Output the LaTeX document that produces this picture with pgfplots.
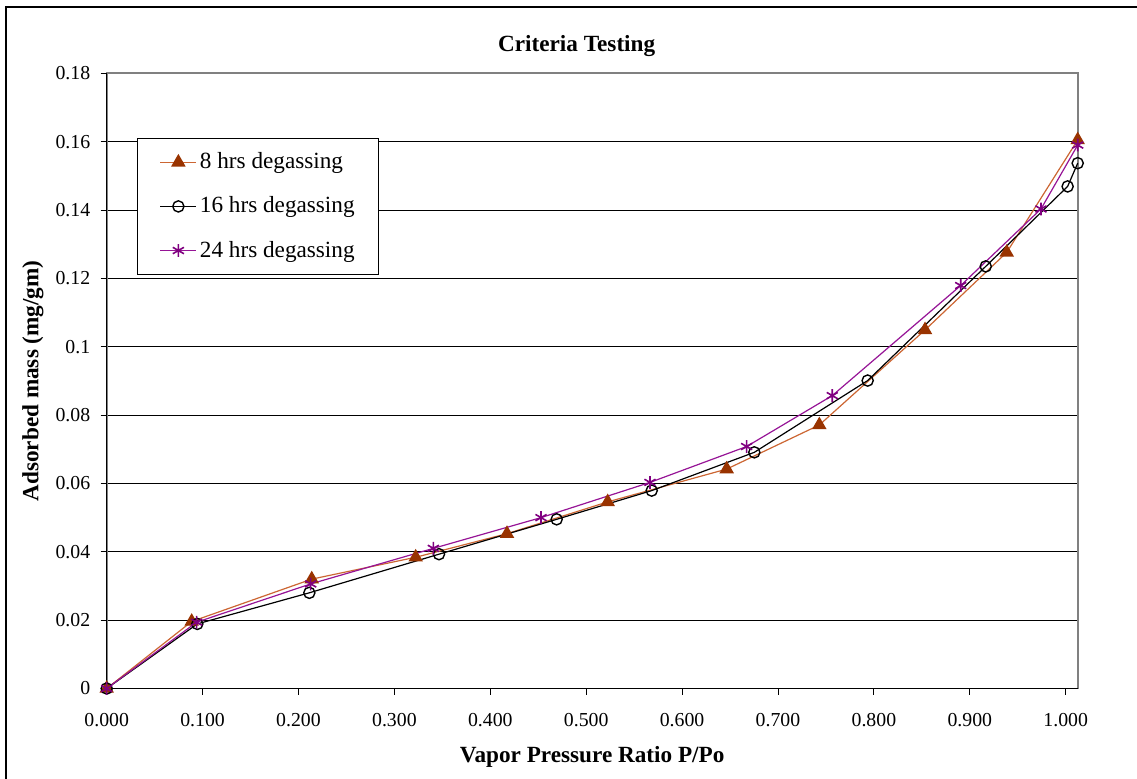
\documentclass[border=0pt]{standalone}
\usepackage{fontspec}
\setmainfont{Liberation Serif}
\usepackage{pgfplots}
\pgfplotsset{compat=1.18}

\definecolor{brownline}{RGB}{204,102,51}
\definecolor{brownmark}{RGB}{153,51,0}
\definecolor{purpline}{RGB}{150,20,150}
\definecolor{purpmark}{RGB}{128,0,128}

\begin{document}
\begin{tikzpicture}
% page = 1137 x 778 px at 0.5pt per px, origin at lower-left of plot area
\useasboundingbox (-53.35pt,-44.75pt) rectangle (515.15pt,344.25pt);
\draw[line width=1pt] (-50.2pt,-50pt) -- (-50.2pt,340.8pt) -- (520pt,340.8pt);

\begin{axis}[
    scale only axis,
    width=485.5pt, height=307.6pt,
    xmin=0, xmax=1.0125,
    ymin=0, ymax=0.18,
    clip=false,
    xtick={0,0.1,0.2,0.3,0.4,0.5,0.6,0.7,0.8,0.9,1.0},
    xticklabels={0.000,0.100,0.200,0.300,0.400,0.500,0.600,0.700,0.800,0.900,1.000},
    ytick={0,0.02,0.04,0.06,0.08,0.1,0.12,0.14,0.16,0.18},
    yticklabels={0,0.02,0.04,0.06,0.08,0.1,0.12,0.14,0.16,0.18},
    xtick pos=bottom, ytick pos=left,
    tick align=outside,
    major tick length=3pt,
    tick style={black, line width=0.5pt},
    ymajorgrids,
    grid style={black, line width=0.5pt},
    axis line style={draw=gray, line width=0.9pt},
    ticklabel style={font=\fontsize{9.9}{11}\selectfont},
    xticklabel style={yshift=-6pt},
    yticklabel style={xshift=-1.7pt},
    title={Criteria Testing},
    title style={at={(axis description cs:0.484,1.0493)}, anchor=center, yshift=-7.5pt,
        font=\bfseries\fontsize{11.6}{13}\selectfont},
    xlabel={Vapor Pressure Ratio P/Po},
    xlabel style={at={(axis description cs:0.5,-0.1113)}, anchor=center, font=\bfseries\fontsize{11.6}{13}\selectfont},
    ylabel={Adsorbed mass (mg/gm)},
    ylabel style={at={(axis description cs:-0.0759,0.5)}, anchor=center, font=\bfseries\fontsize{11.6}{13}\selectfont},
    legend style={at={(0.0315,0.8944)}, anchor=north west, draw=black, line width=0.5pt, fill=white,
        font=\fontsize{11.6}{13}\selectfont, inner xsep=11pt, inner ysep=5pt, row sep=8.5pt,
        nodes={inner xsep=1pt},
        /tikz/every odd column/.append style={column sep=0.5pt}},
    legend cell align=left,
    legend image code/.code={%
        \draw[mark repeat=2,mark phase=2,#1] plot coordinates {(0pt,0pt) (9pt,0pt) (18pt,0pt)};},
]

\draw[black, line width=0.8pt] (rel axis cs:0,1) -- (rel axis cs:0,0) -- (rel axis cs:1,0);

% 8 hrs degassing
\addplot[color=brownline, line width=0.6pt, mark=triangle*, mark size=3.6pt,
    mark options={fill=brownmark, draw=brownmark}] coordinates {
    (0,0) (0.0886,0.0196) (0.2138,0.0320) (0.3222,0.0384) (0.4174,0.0453)
    (0.5224,0.0546) (0.6465,0.0642) (0.7431,0.0771) (0.8533,0.1049)
    (0.9385,0.1276) (1.0125,0.1605)
};

% 16 hrs degassing
\addplot[color=black, line width=0.6pt, mark=o, mark size=2.8pt,
    mark options={line width=0.7pt}] coordinates {
    (0,0) (0.0945,0.0189) (0.2113,0.0280) (0.3465,0.0393) (0.4692,0.0495)
    (0.5683,0.0579) (0.6753,0.0691) (0.7935,0.0901) (0.9166,0.1235)
    (1.0020,0.1469) (1.0125,0.1537)
};

% 24 hrs degassing
\addplot[color=purpline, line width=0.6pt, mark=asterisk, mark size=3.2pt,
    mark options={draw=purpmark, line width=0.8pt}] coordinates {
    (0,0) (0.0938,0.0194) (0.2127,0.0306) (0.3406,0.0410) (0.4529,0.0500)
    (0.5665,0.0603) (0.6673,0.0708) (0.7566,0.0857) (0.8905,0.1179)
    (0.9742,0.1403) (1.0125,0.1590)
};

\legend{8 hrs degassing, 16 hrs degassing, 24 hrs degassing}
\end{axis}
\end{tikzpicture}
\end{document}
